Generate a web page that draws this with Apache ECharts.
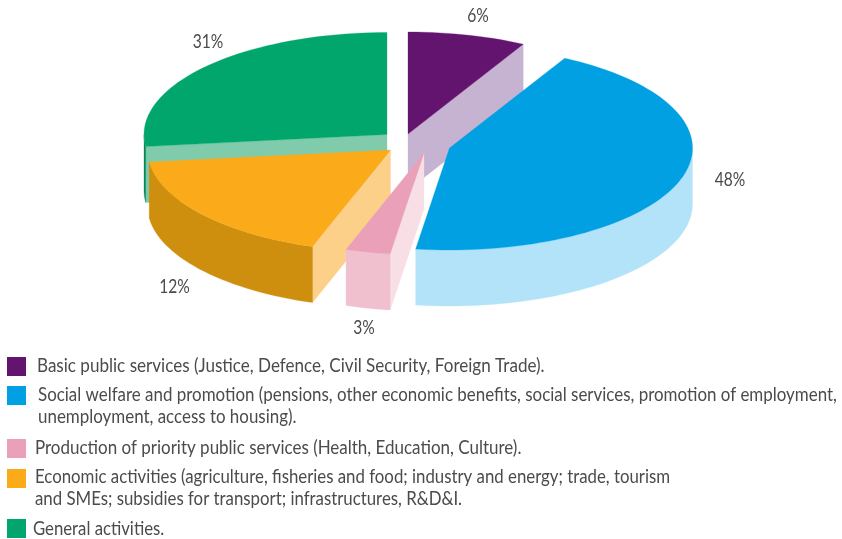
<!DOCTYPE html>
<html>
<head>
<meta charset="utf-8">
<style>
  html, body { margin: 0; padding: 0; background: #fff; }
  #chart { width: 842px; height: 539px; }
</style>
<script src="https://cdn.jsdelivr.net/npm/echarts@6/dist/echarts.min.js"></script>
</head>
<body>
<div id="chart"></div>
<script>
// Printed percentages
const percentShares = [6, 48, 3, 12, 31];
// Sweep of each slice in degrees, clockwise from 12 o'clock
// (the printed pie is not drawn to scale with its percentages)
const sliceSweeps = [28.3, 159.7, 10.7, 64.5, 96.8];
const legendLabels = [
    'Basic public services (Justice, Defence, Civil Security, Foreign Trade).',
    'Social welfare and promotion (pensions, other economic benefits, social services, promotion of employment,\nunemployment, access to housing).',
    'Production of priority public services (Health, Education, Culture).',
    'Economic activities (agriculture, fisheries and food; industry and energy; trade, tourism\nand SMEs; subsidies for transport; infrastructures, R&D&I.',
    'General activities.'
];

// --- Layout and colours ---

const RX = 243;
const RY = 102;
const DEPTH = 56;
// No condensed font installed, so Lato gets squeezed horizontally
const FONT = '19.5px Lato, "Open Sans", sans-serif';
const TEXT_COLOR = '#4b4b4b';
const LABEL_SQUEEZE = 0.8;

const sliceStyles = [
    { centre: [408, 134], top: '#63146f', cut: '#c5b3d1', rim: '#c5b3d1', z: 1, label: [478, 16] },
    { centre: [449.5, 148], top: '#00a0e3', cut: '#b3e3f9', rim: '#b3e3f9', z: 5, label: [730, 180] },
    { centre: [424, 153], top: '#e9a0b8', cut: '#f8dfe6', rim: '#f0c0cf', z: 4, label: [364, 328] },
    { centre: [390.5, 150], top: '#fbab19', cut: '#fdd08a', rim: '#ce8f0f', z: 3, label: [174.5, 287] },
    { centre: [387, 134.5], top: '#00a66c', cut: '#80cbab', rim: '#00885a', z: 2, label: [208, 42] }
];
const legendRows = [
    { box: 357, text: 37, middle: 366, squeeze: 0.875 },
    { box: 386, text: 38, middle: 405.5, squeeze: 0.868 },
    { box: 439, text: 35, middle: 448, squeeze: 0.871 },
    { box: 469, text: 35, middle: 488, squeeze: 0.862 },
    { box: 519, text: 33, middle: 529, squeeze: 0.858 }
];

function rimPoint(centre, deg, drop) {
    const a = deg * Math.PI / 180;
    return [centre[0] + RX * Math.sin(a), centre[1] - RY * Math.cos(a) + drop];
}

function arcPoints(centre, from, to, drop) {
    const points = [];
    const steps = Math.max(2, Math.ceil((to - from) / 2));
    for (let i = 0; i <= steps; i++) {
        points.push(rimPoint(centre, from + (to - from) * i / steps, drop));
    }
    return points;
}

function polygon(points, fill, z2) {
    return { type: 'polygon', z2: z2, shape: { points: points }, style: { fill: fill, stroke: fill, lineWidth: 0.3 } };
}

/**
 * Draws one extruded slice: visible cut faces, front rim wall, then the top face
 */
function renderSlice(params, api) {
    const index = api.value(0);
    const sweep = api.value(1);
    const style = sliceStyles[index];
    const c = style.centre;
    const start = sliceSweeps.slice(0, index).reduce((sum, s) => sum + s, 0);
    const end = start + sweep;
    const base = style.z * 10;
    const bottom = [c[0], c[1] + DEPTH];
    const children = [];

    // A cut face looks at the viewer only on one half of the circle
    if (Math.sin(start * Math.PI / 180) < -1e-6) {
        children.push(polygon([c, rimPoint(c, start, 0), rimPoint(c, start, DEPTH), bottom], style.cut, base));
    }
    if (Math.sin(end * Math.PI / 180) > 1e-6) {
        children.push(polygon([c, rimPoint(c, end, 0), rimPoint(c, end, DEPTH), bottom], style.cut, base));
    }

    const wallFrom = Math.max(start, 90);
    const wallTo = Math.min(end, 270);
    if (wallTo > wallFrom) {
        const upper = arcPoints(c, wallFrom, wallTo, 0);
        const lower = arcPoints(c, wallFrom, wallTo, DEPTH).reverse();
        children.push(polygon(upper.concat(lower), style.rim, base + 1));
    }

    children.push(polygon([c].concat(arcPoints(c, start, end, 0)), style.top, base + 2));

    children.push({
        type: 'text',
        z2: 100,
        x: style.label[0],
        y: style.label[1],
        scaleX: LABEL_SQUEEZE,
        style: {
            x: 0,
            y: 0,
            text: api.value(2) + '%',
            fill: TEXT_COLOR,
            font: FONT,
            align: 'center',
            verticalAlign: 'middle'
        }
    });

    return { type: 'group', children: children };
}

function legendGraphics() {
    const elements = [];
    legendLabels.forEach((label, i) => {
        const row = legendRows[i];
        elements.push({
            type: 'rect',
            shape: { x: 7, y: row.box, width: 19, height: 19 },
            style: { fill: sliceStyles[i].top }
        });
        elements.push({
            type: 'text',
            x: row.text,
            y: row.middle,
            scaleX: row.squeeze,
            style: {
                x: 0,
                y: 0,
                text: label,
                fill: TEXT_COLOR,
                font: FONT,
                lineHeight: 22,
                verticalAlign: 'middle'
            }
        });
    });
    return elements;
}

const chart = echarts.init(document.getElementById('chart'));
chart.setOption({
    animation: false,
    graphic: { elements: legendGraphics() },
    series: [
        {
            type: 'custom',
            coordinateSystem: 'none',
            renderItem: renderSlice,
            data: sliceSweeps.map((sweep, i) => [i, sweep, percentShares[i]])
        }
    ]
});
</script>
</body>
</html>
